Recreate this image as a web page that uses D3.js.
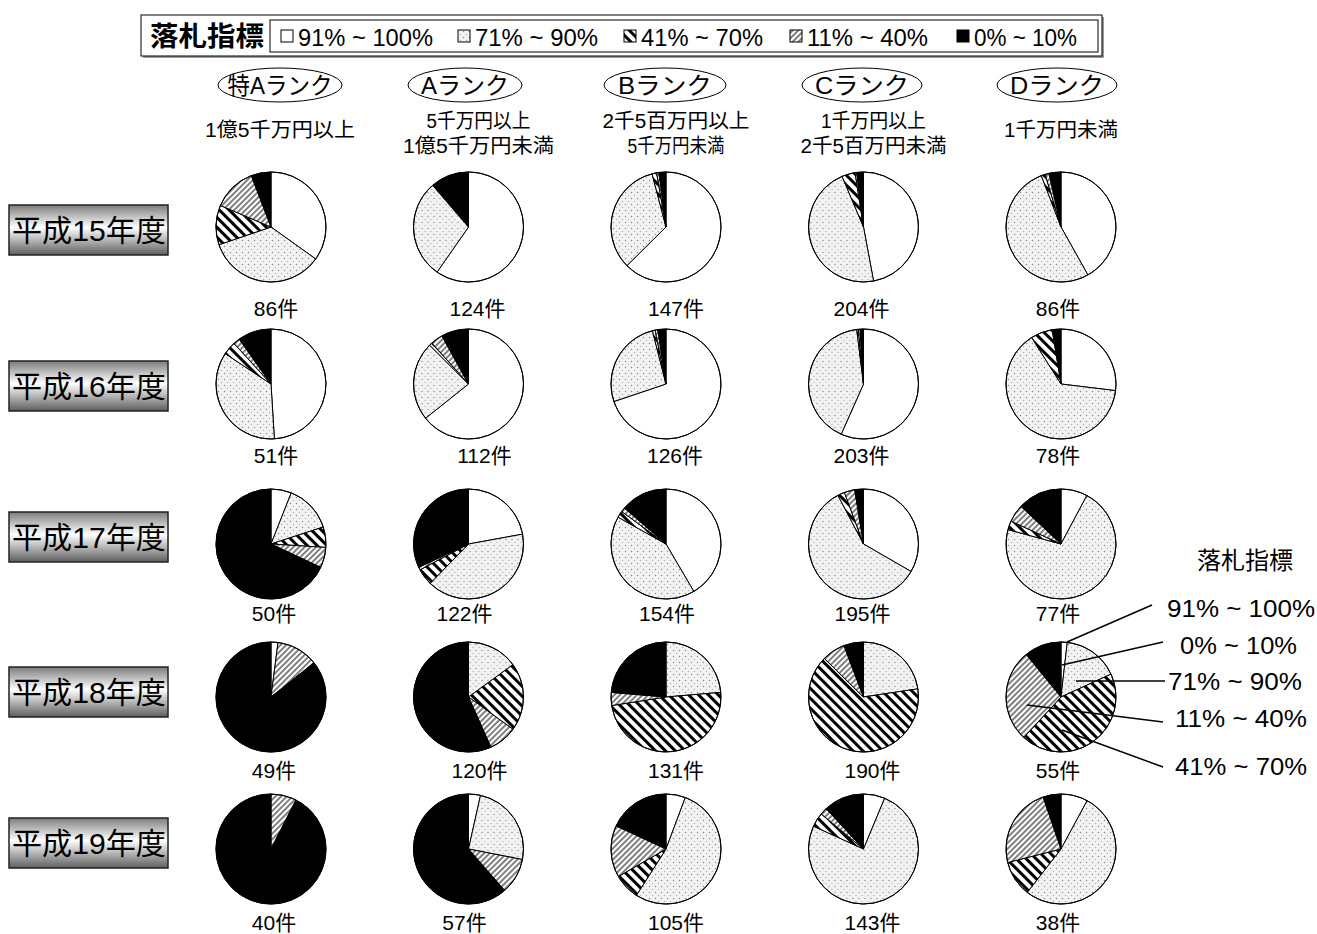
<!DOCTYPE html>
<html><head><meta charset="utf-8">
<script src="https://cdn.jsdelivr.net/npm/d3@7"></script>
<style>body{margin:0;background:#fff}</style>
</head><body>
<svg id="c" width="1317" height="934"></svg>
<script>
// ---------- DATA ----------
const categories = ["91% ~ 100%", "71% ~ 90%", "41% ~ 70%", "11% ~ 40%", "0% ~ 10%"];
const ranks = ["特Aランク", "Aランク", "Bランク", "Cランク", "Dランク"];
const rankRanges = [["1億5千万円以上"], ["5千万円以上", "1億5千万円未満"], ["2千5百万円以上", "5千万円未満"], ["1千万円以上", "2千5百万円未満"], ["1千万円未満"]];
const years = ["平成15年度", "平成16年度", "平成17年度", "平成18年度", "平成19年度"];
// counts per rank, in category order [91-100, 71-90, 41-70, 11-40, 0-10]
const h15 = [[30, 30, 10, 11, 5], [74, 36, 0, 0, 14], [92, 49, 2, 1, 3], [96, 95, 8, 1, 4], [36, 45, 1, 1, 3]];
const h16 = [[25, 18, 2, 1, 5], [72, 26, 1, 4, 9], [88, 33, 1, 1, 3], [115, 84, 1, 1, 2], [21, 50, 5, 0, 2]];
const h17 = [[3, 7, 3, 3, 34], [27, 49, 6, 1, 39], [64, 64, 3, 2, 21], [65, 115, 4, 6, 5], [6, 55, 2, 4, 10]];
const h18 = [[1, 0, 0, 6, 42], [0, 18, 24, 10, 68], [0, 31, 64, 5, 31], [0, 43, 123, 13, 11], [1, 9, 24, 15, 6]];
const h19 = [[0, 0, 0, 3, 37], [2, 14, 0, 6, 35], [6, 56, 8, 16, 19], [9, 108, 6, 3, 17], [3, 20, 4, 9, 2]];
const totals = [[86, 124, 147, 204, 86], [51, 112, 126, 203, 78], [50, 122, 154, 195, 77], [49, 120, 131, 190, 55], [40, 57, 105, 143, 38]];
const legendTitle = "落札指標";
const calloutOrder = ["91% ~ 100%", "0% ~ 10%", "71% ~ 90%", "11% ~ 40%", "41% ~ 70%"];

// ---------- LAYOUT ----------
const W = 1317, H = 934, R = 55;
const rowY = [227, 384, 544, 697, 849];
const labelY = [316, 463, 621, 778, 930];
const labelDx = [[5, 9, 10, -2, -3], [5, 16, 9, -2, -3], [3, -4, 1, -1, -3], [3, 11, 10, 9, -3], [3, -4, 10, 9, -3]];
const fNarrow = "'Liberation Sans Narrow','Liberation Sans','Noto Sans CJK JP',sans-serif";
const fReg = "'Liberation Sans','Noto Sans CJK JP',sans-serif";

const svg = d3.select("#c");
const defs = svg.append("defs");

// patterns
const pDots = defs.append("pattern").attr("id", "pDots").attr("patternUnits", "userSpaceOnUse").attr("width", 6).attr("height", 6);
pDots.append("rect").attr("width", 6).attr("height", 6).attr("fill", "#f3f3f3");
pDots.append("circle").attr("cx", 1.5).attr("cy", 1.5).attr("r", 0.75).attr("fill", "#8a8a8a");
pDots.append("circle").attr("cx", 4.5).attr("cy", 4.5).attr("r", 0.75).attr("fill", "#b4b4b4");

const pBold = defs.append("pattern").attr("id", "pBold").attr("patternUnits", "userSpaceOnUse")
  .attr("width", 7).attr("height", 7).attr("patternTransform", "rotate(-45)");
pBold.append("rect").attr("width", 7).attr("height", 7).attr("fill", "#fff");
pBold.append("line").attr("x1", 3.5).attr("y1", 0).attr("x2", 3.5).attr("y2", 7).attr("stroke", "#000").attr("stroke-width", 3);

const pFine = defs.append("pattern").attr("id", "pFine").attr("patternUnits", "userSpaceOnUse")
  .attr("width", 4).attr("height", 4).attr("patternTransform", "rotate(45)");
pFine.append("rect").attr("width", 4).attr("height", 4).attr("fill", "#fff");
pFine.append("line").attr("x1", 2).attr("y1", 0).attr("x2", 2).attr("y2", 4).attr("stroke", "#000").attr("stroke-width", 1);

const grad = defs.append("linearGradient").attr("id", "gYear").attr("x1", 0).attr("y1", 0).attr("x2", 0).attr("y2", 1);
grad.append("stop").attr("offset", "0%").attr("stop-color", "#7c7c7c");
grad.append("stop").attr("offset", "45%").attr("stop-color", "#ffffff");
grad.append("stop").attr("offset", "100%").attr("stop-color", "#5e5e5e");

const fillScale = d3.scaleOrdinal().domain(categories)
  .range(["#ffffff", "url(#pDots)", "url(#pBold)", "url(#pFine)", "#000000"]);

// scales
const xScale = d3.scalePoint().domain(ranks).range([271, 1061]);
const yScale = d3.scaleOrdinal().domain(years).range(rowY);

// ---------- LEGEND BOX ----------
svg.append("rect").attr("x", 143).attr("y", 17).attr("width", 961).attr("height", 41).attr("fill", "#9a9a9a");
svg.append("rect").attr("x", 141).attr("y", 15).attr("width", 961).attr("height", 41).attr("fill", "#fff").attr("stroke", "#000");
svg.append("text").attr("x", 150).attr("y", 46).attr("font-family", fReg).attr("font-weight", "bold")
  .attr("font-size", 27).attr("textLength", 114).attr("lengthAdjust", "spacingAndGlyphs").text(legendTitle);
svg.append("rect").attr("x", 270).attr("y", 20).attr("width", 828).attr("height", 32).attr("fill", "#fff").attr("stroke", "#000");
const legX = [281, 458, 624, 790, 957];
const legW = [150, 138, 137, 136, 118];
categories.forEach((c, i) => {
  svg.append("rect").attr("x", legX[i]).attr("y", 30).attr("width", 12).attr("height", 12)
    .attr("fill", fillScale(c)).attr("stroke", "#000");
  svg.append("text").attr("x", legX[i] + 17).attr("y", 46).attr("font-family", fNarrow).attr("font-size", 23)
    .attr("textLength", legW[i] - 15).attr("lengthAdjust", "spacingAndGlyphs").text(c);
});

// ---------- HEADERS ----------
const headW = [105, 88, 94, 94, 94];
const ellRx = [62, 57, 61, 60, 60];
const headCx = [280, 465, 665, 862, 1057];
const subW = [[150], [104, 151], [147, 97], [105, 146], [114]];
ranks.forEach((r, i) => {
  const g = svg.append("g");
  g.append("ellipse").attr("cx", headCx[i]).attr("cy", 85).attr("rx", ellRx[i]).attr("ry", 17)
    .attr("fill", "#fff").attr("stroke", "#000");
  g.append("text").attr("x", headCx[i]).attr("y", 94).attr("text-anchor", "middle")
    .attr("font-family", fNarrow).attr("font-size", 24).attr("textLength", headW[i])
    .attr("lengthAdjust", "spacingAndGlyphs").text(r);
  const lines = rankRanges[i];
  const ys = lines.length === 1 ? [137] : [128, 153];
  lines.forEach((t, j) => {
    g.append("text").attr("x", xScale(r) + (i === 0 ? 9 : i === 4 ? 0 : 10)).attr("y", ys[j]).attr("text-anchor", "middle")
      .attr("font-family", fNarrow).attr("font-size", 20).attr("textLength", subW[i][j])
      .attr("lengthAdjust", "spacingAndGlyphs").text(t);
  });
});

// ---------- YEAR LABELS ----------
years.forEach((y, i) => {
  const cy = [230, 386, 537, 692, 843][i];
  svg.append("rect").attr("x", 9).attr("y", cy - 25).attr("width", 159).attr("height", 50)
    .attr("fill", "url(#gYear)").attr("stroke", "#222").attr("stroke-width", 1.5);
  svg.append("text").attr("x", 12).attr("y", cy + 11).attr("font-family", fReg).attr("font-size", 30)
    .attr("textLength", 154).attr("lengthAdjust", "spacingAndGlyphs").text(y);
});

// ---------- PIES ----------
const allYears = [h15, h16, h17, h18, h19];
const pie = d3.pie().sort(null).value(d => d.v);
const arc = d3.arc().innerRadius(0).outerRadius(R);
allYears.forEach((yr, yi) => {
  yr.forEach((vals, ri) => {
    const cx = xScale(ranks[ri]), cy = yScale(years[yi]);
    const g = svg.append("g").attr("transform", `translate(${cx},${cy})`);
    const data = categories.map((c, k) => ({ c, v: vals[k] }));
    const arcs = pie(data).filter(d => d.data.v > 0);
    g.selectAll("path").data(arcs).join("path")
      .attr("d", arc).attr("fill", d => fillScale(d.data.c))
      .attr("stroke", "#000").attr("stroke-width", 1).attr("stroke-linejoin", "round");
    g.append("circle").attr("r", R).attr("fill", "none").attr("stroke", "#000").attr("stroke-width", 1);
    svg.append("text").attr("x", cx + labelDx[yi][ri]).attr("y", labelY[yi]).attr("text-anchor", "middle")
      .attr("font-family", fReg).attr("font-size", 21).text(totals[yi][ri] + "件");
  });
});

// ---------- CALLOUT (H18 D rank) ----------
const cX = xScale(ranks[4]), cY = yScale(years[3]);
svg.append("text").attr("x", 1245).attr("y", 569).attr("text-anchor", "middle")
  .attr("font-family", fReg).attr("font-size", 24).text(legendTitle);
const calStart = [[6, -55], [1, -32], [15, -16], [-34, 8], [1, 33]];
const calEnd = [[1152, 605], [1163, 642], [1165, 681], [1163, 722], [1163, 767]];
const calTextX = [1167, 1180, 1168, 1175, 1175];
const calTextY = [617, 654, 690, 727, 775];
const calTextW = [148, 117, 134, 132, 132];
calloutOrder.forEach((c, i) => {
  svg.append("line").attr("x1", cX + calStart[i][0]).attr("y1", cY + calStart[i][1])
    .attr("x2", calEnd[i][0]).attr("y2", calEnd[i][1]).attr("stroke", "#000").attr("stroke-width", 1.5);
  svg.append("text").attr("x", calTextX[i]).attr("y", calTextY[i]).attr("font-family", fReg)
    .attr("font-size", 24).attr("textLength", calTextW[i]).attr("lengthAdjust", "spacingAndGlyphs").text(c);
});
</script>
</body></html>
